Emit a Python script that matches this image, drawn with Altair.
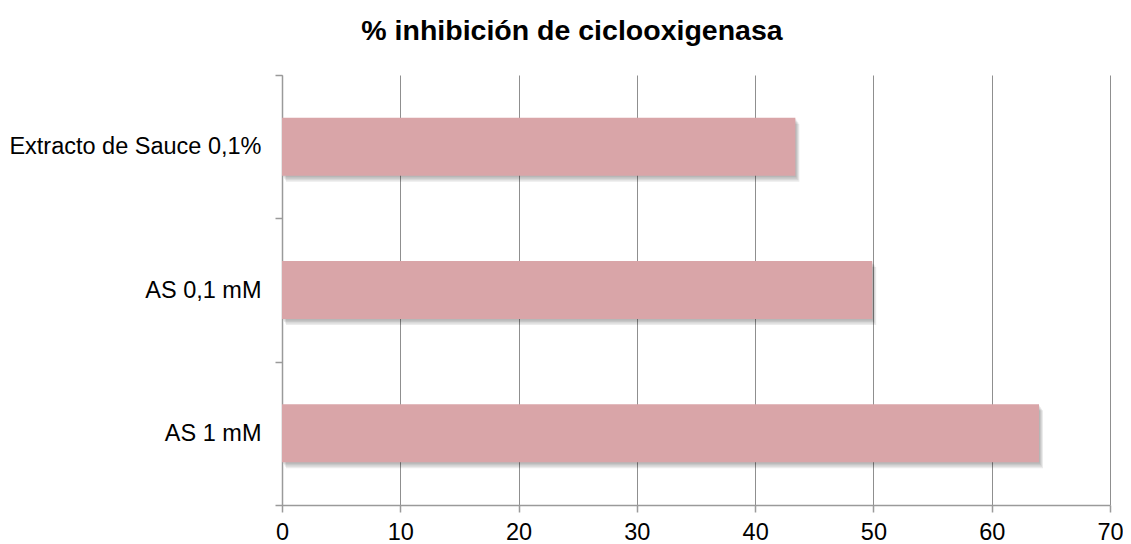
import altair as alt
import pandas as pd

categories = ["Extracto de Sauce 0,1%", "AS 0,1 mM", "AS 1 mM"]
values = [43.4, 49.9, 64.0]

df = pd.DataFrame({"cat": categories, "val": values})

y_enc = alt.Y("cat:N", sort=categories, title=None,
              scale=alt.Scale(paddingInner=0, paddingOuter=0),
              axis=alt.Axis(tickBand="extent", domainColor="#9a9a9a", domainWidth=1.5,
                            tickColor="#9a9a9a", tickWidth=1.5, tickSize=7,
                            labelPadding=14, labelFontSize=23.5, labelColor="#000000",
                            labelFont="Liberation Sans", grid=False, labelLimit=400))
x_enc = alt.X("val:Q", title=None,
              scale=alt.Scale(domain=[0, 70], nice=False),
              axis=alt.Axis(values=[0, 10, 20, 30, 40, 50, 60, 70], grid=True,
                            gridColor="#8f8f8f", gridWidth=1,
                            domainColor="#9a9a9a", domainWidth=1.5,
                            tickColor="#9a9a9a", tickWidth=1.5, tickSize=7,
                            labelPadding=8, labelFontSize=23.5, labelColor="#000000",
                            labelFont="Liberation Sans", labelFlush=False, labelOverlap=False))

base = alt.Chart(df)
shadows = [
    base.mark_bar(size=58, color="#000000", opacity=0.08, xOffset=dx, yOffset=dy).encode(x=x_enc, y=y_enc)
    for dx, dy in [(1, 1.5), (2, 3), (3, 4.5), (4, 6)]
]
bars = base.mark_bar(size=58, color="#D9A5A8").encode(x=x_enc, y=y_enc)

chart = alt.layer(*shadows, bars).properties(
    width=828, height=430,
    title=alt.TitleParams("% inhibición de ciclooxigenasa", font="Liberation Sans",
                          fontSize=28.5, fontWeight="bold", color="#000000",
                          anchor="middle", frame="bounds", offset=18, dx=6),
    autosize=alt.AutoSizeParams(type="none"),
    padding={"left": 274, "top": 67, "right": 13, "bottom": 38},
).configure_view(stroke=None)

chart.save("out.html", embed_options={"renderer": "svg", "actions": False})
